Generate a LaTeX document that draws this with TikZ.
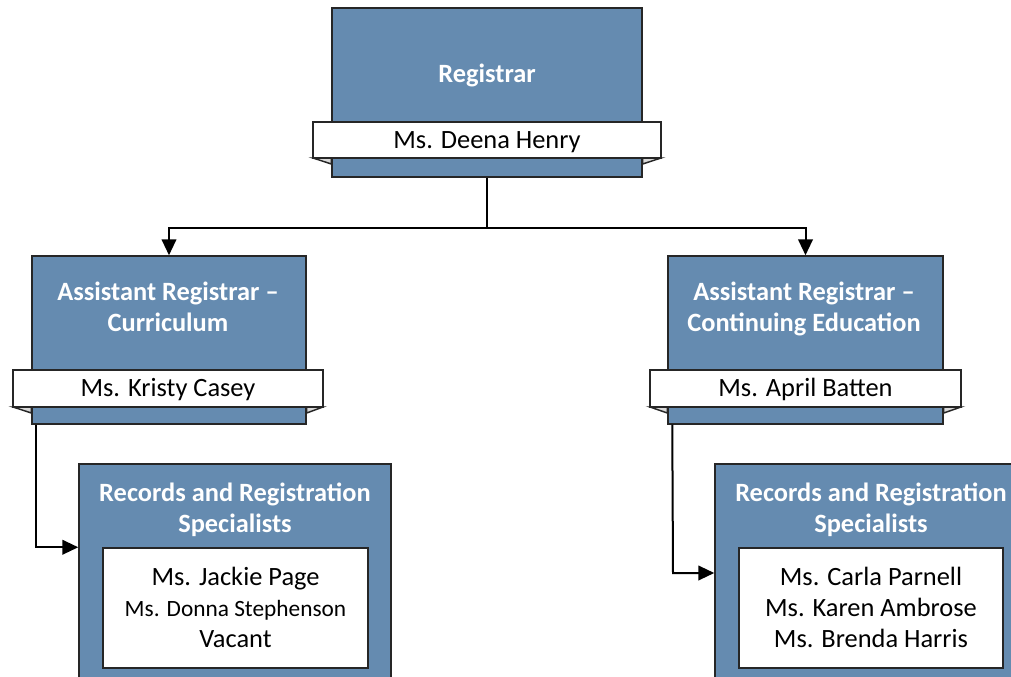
\documentclass[tikz,border=0pt]{standalone}
\usepackage{fontspec}
\setmainfont{Carlito}
\usetikzlibrary{arrows.meta}
\definecolor{boxblue}{RGB}{101,139,176}
\definecolor{foldgray}{RGB}{217,217,217}
\newcommand\mystrut{\rule[-4pt]{0pt}{20.3pt}}
\tikzset{
  bluebox/.style={draw=black!85, line width=1.1pt, fill=boxblue, inner sep=0pt},
  namebar/.style={draw=black!85, line width=1.1pt, fill=white, inner sep=0pt,
    font=\fontsize{19.8}{23.25}\selectfont},
  innerbox/.style={draw=black!85, line width=1.1pt, fill=white, inner sep=0pt,
    align=center, font=\fontsize{19.8}{23.25}\selectfont},
  titletext/.style={text=white, inner sep=0pt, align=center,
    font=\bfseries\fontsize{19.8}{23.25}\selectfont},
  fold/.style={draw=black!85, line width=1.1pt, fill=foldgray, line join=miter},
  conn/.style={draw=black, line width=1.5pt},
  arrowconn/.style={conn, -{Triangle[length=12pt,width=11pt]}},
}
\begin{document}
\begin{tikzpicture}[x=0.75pt,y=-0.75pt]
\useasboundingbox (0,0) rectangle (1011,677);
\clip (0,0) rectangle (1011,677);

% ---- top
\node[bluebox, minimum width=232.5pt, minimum height=126.75pt] (top) at (487,92.5) {};
\node[titletext] (toptitle) at (487,74) {\mystrut Registrar};
\path[fold] (313,158) -- (top.west |- 0,158) -- ++(0,6) -- cycle;
\path[fold] (661,158) -- (top.east |- 0,158) -- ++(0,6) -- cycle;
\node[namebar, minimum width=261pt, minimum height=27pt] (topbar) at (487,140) {\mystrut Ms. Deena Henry};

% ---- left middle
\node[bluebox, minimum width=205.5pt, minimum height=126pt] (lmid) at (169,340) {};
\node[titletext] (lmidtitle) at (168,307.5) {\mystrut Assistant Registrar –\\\mystrut Curriculum};
\path[fold] (13,407) -- (lmid.west |- 0,407) -- ++(0,6) -- cycle;
\path[fold] (323,407) -- (lmid.east |- 0,407) -- ++(0,6) -- cycle;
\node[namebar, minimum width=232.5pt, minimum height=27.75pt] (lbar) at (168,388.5) {\mystrut Ms. Kristy Casey};

% ---- right middle
\node[bluebox, minimum width=206.25pt, minimum height=126pt] (rmid) at (805.5,340) {};
\node[titletext] (rmidtitle) at (804,307.5) {\mystrut Assistant Registrar –\\\mystrut Continuing Education};
\path[fold] (650,407) -- (rmid.west |- 0,407) -- ++(0,6) -- cycle;
\path[fold] (961,407) -- (rmid.east |- 0,407) -- ++(0,6) -- cycle;
\node[namebar, minimum width=233.25pt, minimum height=27.75pt] (rbar) at (805.5,388.5) {\mystrut Ms. April Batten};

% ---- bottom left
\node[bluebox, minimum width=234pt, minimum height=177pt] (lbot) at (235,582) {};
\node[titletext] (lbottitle) at (235,508.5) {\mystrut Records and Registration\\\mystrut Specialists};
\node[innerbox, minimum width=198.75pt, minimum height=90pt] (linner) at (235.5,608)
  {\mystrut Ms. Jackie Page\\\mystrut{\fontsize{17.5}{23.25}\selectfont Ms. Donna Stephenson}\\\mystrut Vacant};

% ---- bottom right
\node[bluebox, minimum width=234pt, minimum height=177pt] (rbot) at (871,582) {};
\node[titletext] (rbottitle) at (871,508.5) {\mystrut Records and Registration\\\mystrut Specialists};
\node[innerbox, minimum width=198pt, minimum height=90pt] (rinner) at (871,608)
  {\mystrut Ms. Carla Parnell\\\mystrut Ms. Karen Ambrose\\\mystrut Ms. Brenda Harris};

% ---- connectors
\coordinate (junc) at (487,228);
\draw[conn] (top.south) -- (junc);
\draw[arrowconn] (junc) -| (lmid.north);
\draw[arrowconn] (junc) -| (rmid.north);

\coordinate (lstart) at ([xshift=3.75pt]lmid.south west);
\draw[arrowconn] (lstart) |- (lbot.west |- linner.north);

\coordinate (rstart) at ([xshift=3.75pt]rmid.south west);
\coordinate (rturn) at (673,573);
\draw[arrowconn] (rstart) -- (rturn) -- (rbot.west |- rturn);
\end{tikzpicture}
\end{document}
